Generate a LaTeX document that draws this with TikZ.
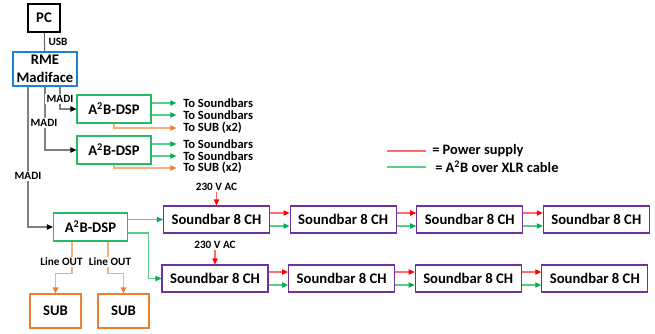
\documentclass[tikz,border=0pt]{standalone}
\usepackage{fontspec}
\setmainfont{Carlito}
\usetikzlibrary{arrows.meta,calc}

\definecolor{rmeblue}{RGB}{30,130,210}
\definecolor{dspgreen}{RGB}{0,176,80}
\definecolor{dspbox}{RGB}{40,185,100}
\definecolor{a2bline}{RGB}{90,205,140}
\definecolor{barpurple}{RGB}{112,48,160}
\definecolor{suborange}{RGB}{237,125,49}
\definecolor{subline}{RGB}{248,175,120}
\definecolor{pwrline}{RGB}{255,110,110}
\definecolor{pwrhead}{RGB}{255,0,0}

\begin{document}
\begin{tikzpicture}[x=0.75pt, y=-0.75pt,  % 以像素为单位
    blk/.style={draw, line width=0.8pt, inner sep=0pt, align=center,
        font=\fontsize{11}{13.5}\selectfont\bfseries},
    dsp/.style={blk, draw=dspbox, minimum width=55.5pt, minimum height=21pt},
    bar/.style={blk, draw=barpurple, minimum width=79.5pt, minimum height=20.25pt},
    sub/.style={blk, draw=suborange, minimum width=38.25pt, minimum height=25.5pt},
    lbl/.style={inner sep=1pt, font=\fontsize{8.4}{9}\selectfont\bfseries},
    totxt/.style={inner sep=0pt, anchor=west, font=\fontsize{9.4}{11}\selectfont\bfseries},
    legtxt/.style={inner sep=0pt, anchor=west, font=\fontsize{10.8}{13}\selectfont\bfseries},
    madiline/.style={draw=gray, line width=0.8pt, -{Triangle[length=4.5pt,width=4pt,color=black]}},
    pwrc/.style={draw=pwrline, line width=0.8pt},
    pwr/.style={pwrc, -{Triangle[length=4.5pt,width=4pt,color=pwrhead]}},
    a2bc/.style={draw=a2bline, line width=0.8pt},
    a2b/.style={a2bc, -{Triangle[length=4.5pt,width=4pt,color=dspgreen]}},
    subl/.style={draw=subline, line width=0.8pt, -{Triangle[length=4.5pt,width=4pt,color=suborange]}}
]
    \useasboundingbox (0,0) rectangle (655,333);

    % PC 和 RME
    \node[blk, minimum width=24pt, minimum height=21pt] (pc) at (44,18) {PC};
    \node[blk, draw=rmeblue, minimum width=48pt, minimum height=25.5pt] (rme) at (45,69) {RME\\Madiface};
    \draw[line width=0.8pt, draw=gray!80!black] (pc) -- (rme);
    \node[lbl, anchor=west] (usb) at (47,42) {USB};

    % 三个 A2B-DSP
    \node[dsp] (dspA) at (114,109) {A\textsuperscript{2}B-DSP};
    \node[dsp] (dspB) at (114,150) {A\textsuperscript{2}B-DSP};
    \node[dsp] (dspC) at (90.5,227) {A\textsuperscript{2}B-DSP};

    % MADI 连线
    \draw[madiline] ($(rme.south)+(15,0)$) |- (dspA.west);
    \draw[madiline] (rme.south) |- (dspB.west);
    \draw[madiline] ($(rme.south)+(-17,0)$) |- (dspC.west);
    \node[lbl, fill=white] (madiA) at (60,99) {MADI};
    \node[lbl, fill=white] (madiB) at (44,123) {MADI};
    \node[lbl, fill=white] (madiC) at (28,176) {MADI};

    % DSP A 和 B 的输出
    \foreach \d/\ya/\yb/\yc in {A/103/115/128, B/144/156/168} {
        \node[totxt] (to\d1) at (183,\ya) {To Soundbars};
        \node[totxt] (to\d2) at (183,\yb) {To Soundbars};
        \node[totxt] (to\d3) at (183,\yc) {To SUB (x2)};
        \draw[a2b, shorten >=5pt] (dsp\d.east |- to\d1.west) -- (to\d1.west);
        \draw[a2b, shorten >=5pt] (dsp\d.east |- to\d2.west) -- (to\d2.west);
        \draw[subl, shorten >=5pt] (dsp\d.south) |- (to\d3.west);
    }

    % 两排音箱
    \foreach \i in {1,...,4} {
        \node[bar] (sbA\i) at ({216.5+(\i-1)*126.6},219.5) {Soundbar 8 CH};
        \node[bar] (sbB\i) at ({215+(\i-1)*126.6},278.5) {Soundbar 8 CH};
    }
    \foreach \i/\j in {1/2, 2/3, 3/4} {
        \draw[pwr] ($(sbA\i.east)+(0,-6.5)$) -- ($(sbA\j.west)+(0,-6.5)$);
        \draw[a2b] ($(sbA\i.east)+(0,6.5)$) -- ($(sbA\j.west)+(0,6.5)$);
        \draw[pwr] ($(sbB\i.east)+(0,-6.5)$) -- ($(sbB\j.west)+(0,-6.5)$);
        \draw[a2b] ($(sbB\i.east)+(0,6.5)$) -- ($(sbB\j.west)+(0,6.5)$);
    }

    % 电源
    \node[lbl] (acA) at (216.5,187) {230 V AC};
    \node[lbl] (acB) at (215,245) {230 V AC};
    \draw[pwr] (acA.south) -- (sbA1.north);
    \draw[pwr] (acB.south) -- (sbB1.north);

    % DSP C 到音箱
    \draw[a2b] (dspC.east |- sbA1.west) -- (sbA1.west);
    \draw[a2b] ($(dspC.east)+(0,6)$) -- ++(20,0) |- (sbB1.west);

    % 低音箱
    \node[sub] (sub1) at (55.5,311) {SUB};
    \node[sub] (sub2) at (123.5,311) {SUB};
    \draw[subl] ($(dspC.south)+(-18.5,0)$) -- ++(0,32) -| (sub1.north);
    \draw[subl] ($(dspC.south)+(17.5,0)$) -- ++(0,32) -| (sub2.north);
    \node[lbl, fill=white] (outA) at (61.5,262) {Line OUT};
    \node[lbl, fill=white] (outB) at (110,262) {Line OUT};

    % 图例
    \coordinate (legR1) at (387,151);
    \coordinate (legR2) at (426,151);
    \coordinate (legG1) at (387,167);
    \coordinate (legG2) at (426,167);
    \draw[pwrc] (legR1) -- (legR2);
    \draw[a2bc] (legG1) -- (legG2);
    \node[legtxt] (legR) at (432,151) {= Power supply};
    \node[legtxt] (legG) at (435,167) {= A\textsuperscript{2}B over XLR cable};

\end{tikzpicture}
\end{document}
